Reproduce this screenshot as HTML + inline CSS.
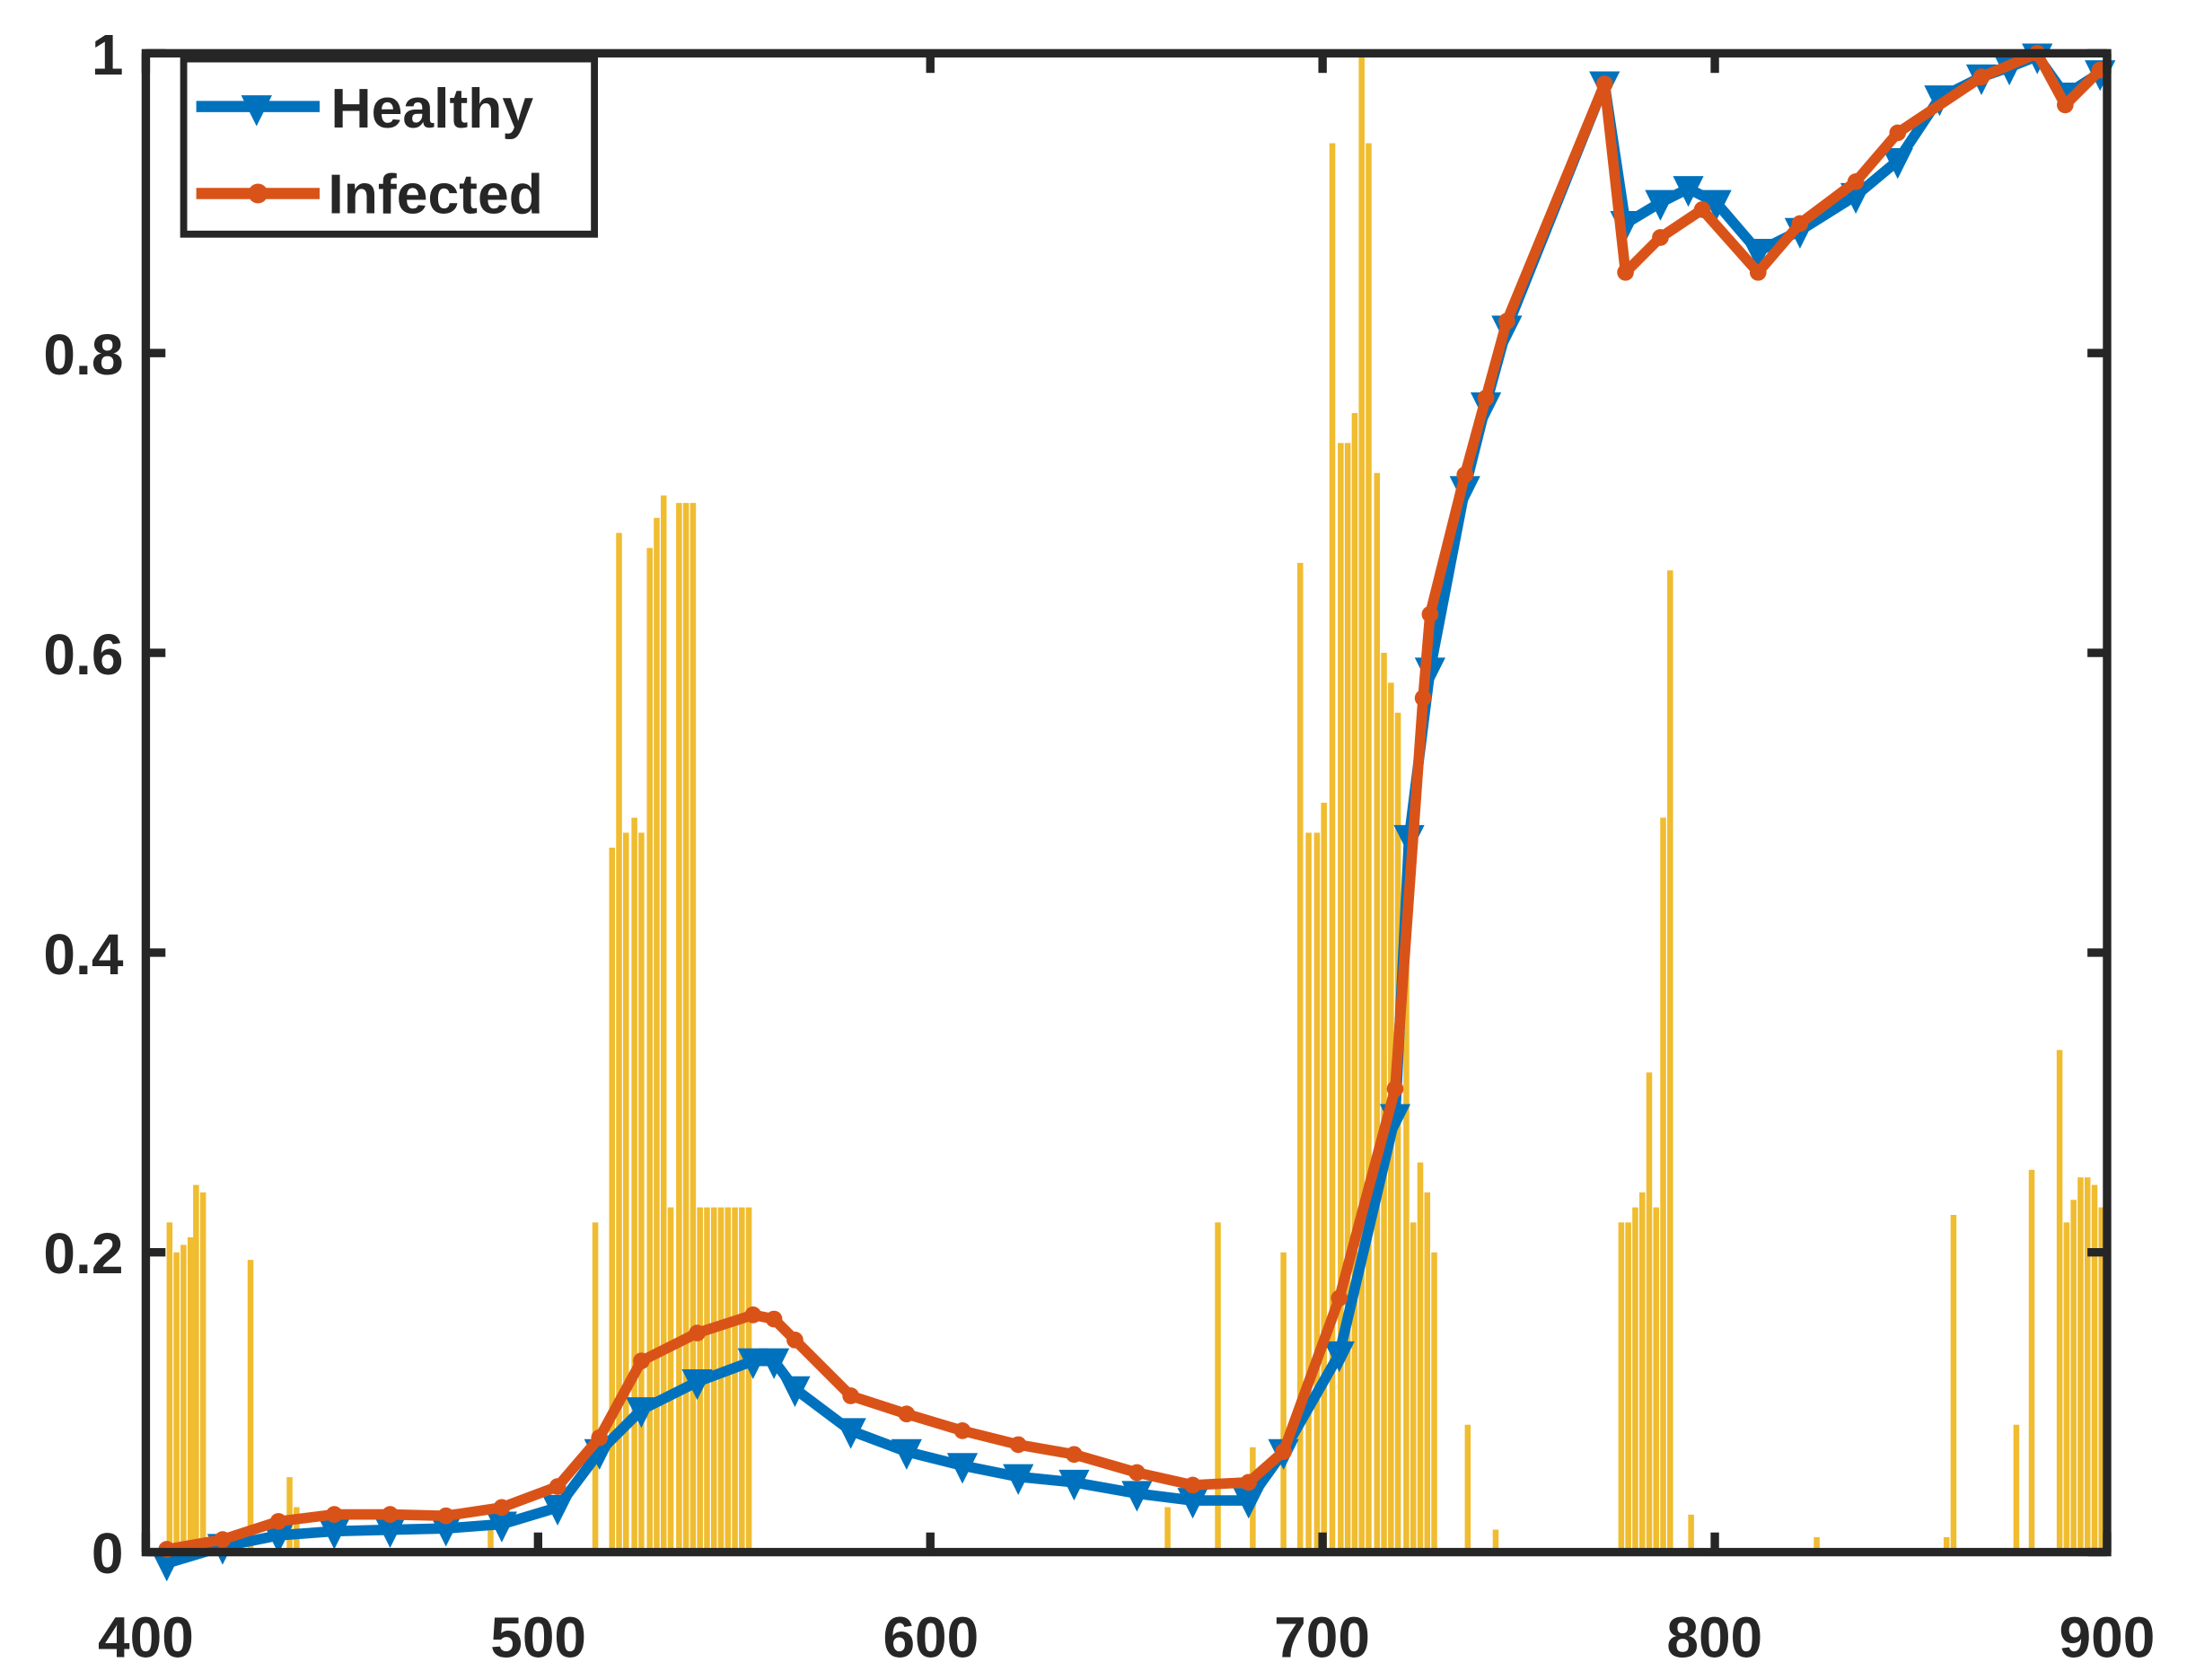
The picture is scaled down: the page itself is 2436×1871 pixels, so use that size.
<!DOCTYPE html>
<html><head><meta charset="utf-8"><style>
html,body{margin:0;padding:0;background:#fff;}
svg{display:block;}
text{font-family:"Liberation Sans",sans-serif;font-weight:bold;fill:#262626;}
</style></head><body>
<svg width="2436" height="1871" viewBox="0 0 1560 1198.2" xmlns="http://www.w3.org/2000/svg">
<g transform="translate(104,38) scale(0.99573,0.99534) translate(-105,-38)">
<g id="bars" stroke="#F0BC30" stroke-width="4.2" fill="none"></g>
<polyline id="hl" fill="none" stroke="#0072BD" stroke-width="7.5" stroke-linejoin="round"/>
<g id="hm" fill="#0072BD"></g>
<polyline id="il" fill="none" stroke="#D95319" stroke-width="7.5" stroke-linejoin="round"/>
<g id="im" fill="#D95319"></g>
</g>
<rect x="104" y="38" width="1399" height="1069" fill="none" stroke="#262626" stroke-width="6"/>
<g id="ticks" stroke="#262626" stroke-width="6"></g>
<g font-size="41" text-anchor="end">
<text x="88" y="53">1</text>
<text x="88" y="267">0.8</text>
<text x="88" y="481">0.6</text>
<text x="88" y="695">0.4</text>
<text x="88" y="908">0.2</text>
<text x="88" y="1122">0</text>
</g>
<g font-size="41" text-anchor="middle">
<text x="104" y="1182">400</text>
<text x="384" y="1182">500</text>
<text x="664" y="1182">600</text>
<text x="943" y="1182">700</text>
<text x="1223" y="1182">800</text>
<text x="1503" y="1182">900</text>
</g>
<rect x="131" y="42" width="293" height="125" fill="#fff" stroke="#262626" stroke-width="5"/>
<line x1="140" y1="76" x2="228" y2="76" stroke="#0072BD" stroke-width="8"/>
<polygon points="172,68 194,68 183,90" fill="#0072BD"/>
<line x1="140" y1="138" x2="228" y2="138" stroke="#D95319" stroke-width="8"/>
<circle cx="184" cy="138" r="7" fill="#D95319"/>
<text x="236" y="91" font-size="40" fill="#000">Healthy</text>
<text x="234" y="152" font-size="40" fill="#000">Infected</text>
<script>
var ns="http://www.w3.org/2000/svg";
function ty(v){return 1112-v*1074;}
var bars=[[122,.22],[127,.20],[132,.205],[137,.21],[141,.245],[146,.24],[180,.195],[208,.05],[213,.03],[352,.02],
[427,.22],[439,.47],[444,.68],[449,.48],[455,.49],[460,.48],[466,.67],[471,.69],[476,.705],[481,.23],[487,.70],[492,.70],[497,.70],[502,.23],[507,.23],[512,.23],[517,.23],[522,.23],[527,.23],[532,.23],[537,.23],
[837,.03],[873,.22],[898,.07],[920,.2],[932,.66],[938,.48],[944,.48],[949,.5],[955,.94],[961,.74],[966,.74],[971,.76],[976,1.0],[981,.94],[987,.72],[992,.6],[997,.58],[1002,.56],[1008,.47],[1013,.22],[1018,.26],[1023,.24],[1028,.2],[1052,.085],[1072,.015],
[1162,.22],[1167,.22],[1172,.23],[1177,.24],[1182,.32],[1187,.23],[1192,.49],[1197,.655],[1212,.025],[1302,.01],
[1395,.01],[1400,.225],[1445,.085],[1456,.255],[1476,.335],[1481,.22],[1486,.235],[1491,.25],[1496,.25],[1501,.245],[1506,.23]];
var g=document.getElementById("bars");
bars.forEach(function(b){var l=document.createElementNS(ns,"line");l.setAttribute("x1",b[0]);l.setAttribute("x2",b[0]);l.setAttribute("y1",1112);l.setAttribute("y2",ty(b[1]));g.appendChild(l);});
var H=[[120,1120],[160,1108],[200,1100],[240,1097],[280,1096],[320,1095],[360,1092],[400,1080],[430,1040],[460,1010],[500,990],[540,975],[555,975],[570,995],[610,1025],[650,1040],[690,1050],[730,1058],[770,1062],[815,1070],[855,1075],[895,1075],[920,1040],[960,970],[1000,800],[1010,600],[1025,480],[1050,350],[1065,290],[1080,235],[1150,60],[1165,160],[1190,145],[1210,135],[1230,145],[1260,180],[1290,165],[1330,140],[1360,115],[1390,70],[1420,55],[1440,48],[1460,40],[1480,68],[1505,52]];
var I=[[120,1110],[160,1103],[200,1090],[240,1085],[280,1085],[320,1086],[360,1080],[400,1065],[430,1030],[460,975],[500,955],[540,942],[555,945],[570,960],[610,1000],[650,1013],[690,1025],[730,1035],[770,1042],[815,1055],[855,1064],[895,1062],[920,1040],[960,930],[1000,780],[1020,500],[1025,440],[1050,340],[1065,285],[1080,230],[1150,60],[1165,195],[1190,170],[1220,150],[1260,195],[1290,160],[1330,130],[1360,95],[1420,55],[1460,38],[1480,75],[1505,50]];
document.getElementById("hl").setAttribute("points",H.map(p=>p.join(",")).join(" "));
document.getElementById("il").setAttribute("points",I.map(p=>p.join(",")).join(" "));
var hm=document.getElementById("hm");
H.forEach(function(p){var t=document.createElementNS(ns,"polygon");t.setAttribute("points",(p[0]-11)+","+(p[1]-9)+" "+(p[0]+11)+","+(p[1]-9)+" "+p[0]+","+(p[1]+13));hm.appendChild(t);});
var im=document.getElementById("im");
I.forEach(function(p){var c=document.createElementNS(ns,"circle");c.setAttribute("cx",p[0]);c.setAttribute("cy",p[1]);c.setAttribute("r",6);im.appendChild(c);});
var tk=document.getElementById("ticks");
function ln(a,b,c,d){var l=document.createElementNS(ns,"line");l.setAttribute("x1",a);l.setAttribute("y1",b);l.setAttribute("x2",c);l.setAttribute("y2",d);tk.appendChild(l);}
for(var i=0;i<=5;i++){var x=104+i*279.8;ln(x,1107,x,1093);ln(x,38,x,52);var y=38+i*213.8;ln(104,y,118,y);ln(1503,y,1489,y);}
</script>
</svg>
</body></html>
